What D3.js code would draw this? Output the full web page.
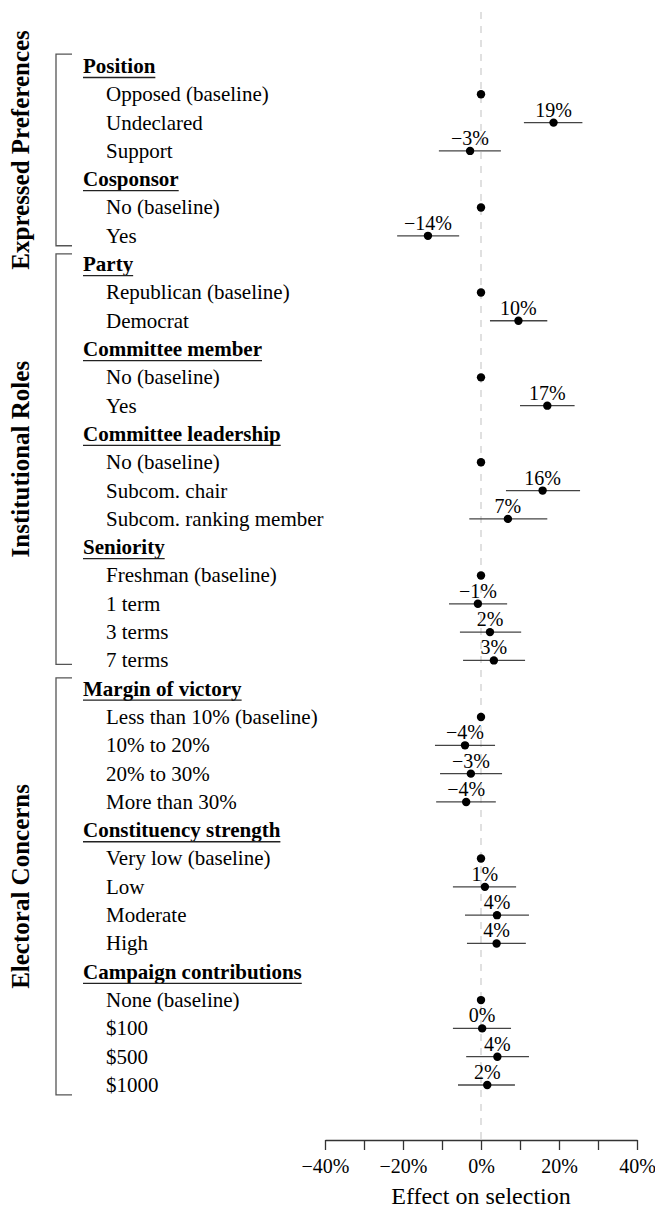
<!DOCTYPE html>
<html>
<head>
<meta charset="utf-8">
<script src="https://cdn.jsdelivr.net/npm/d3@7"></script>
<style>
  body { margin: 0; background: #fff; }
  svg { display: block; font-family: "Liberation Serif", "DejaVu Serif", serif; }
</style>
</head>
<body>
<svg id="chart"></svg>
<script>
// row labels, top to bottom
const rowLabels = [
  'Position', 'Opposed (baseline)', 'Undeclared', 'Support',
  'Cosponsor', 'No (baseline)', 'Yes',
  'Party', 'Republican (baseline)', 'Democrat',
  'Committee member', 'No (baseline)', 'Yes',
  'Committee leadership', 'No (baseline)', 'Subcom. chair', 'Subcom. ranking member',
  'Seniority', 'Freshman (baseline)', '1 term', '3 terms', '7 terms',
  'Margin of victory', 'Less than 10% (baseline)', '10% to 20%', '20% to 30%', 'More than 30%',
  'Constituency strength', 'Very low (baseline)', 'Low', 'Moderate', 'High',
  'Campaign contributions', 'None (baseline)', '$100', '$500', '$1000'
];
// 'h' = header, 'b' = baseline, 'e' = estimate
const rowKinds = [
  'h', 'b', 'e', 'e',
  'h', 'b', 'e',
  'h', 'b', 'e',
  'h', 'b', 'e',
  'h', 'b', 'e', 'e',
  'h', 'b', 'e', 'e', 'e',
  'h', 'b', 'e', 'e', 'e',
  'h', 'b', 'e', 'e', 'e',
  'h', 'b', 'e', 'e', 'e'
];
const estimates = [
  null, 0, 18.6, -2.8,
  null, 0, -13.6,
  null, 0, 9.6,
  null, 0, 17.0,
  null, 0, 15.8, 6.9,
  null, 0, -0.8, 2.3, 3.3,
  null, 0, -4.1, -2.6, -3.8,
  null, 0, 1.0, 4.1, 4.0,
  null, 0, 0.3, 4.2, 1.6
];
const ciLow = [
  null, null, 11.0, -10.8,
  null, null, -21.5,
  null, null, 2.3,
  null, null, 10.0,
  null, null, 6.4, -3.0,
  null, null, -8.2, -5.4, -4.6,
  null, null, -11.8, -10.5, -11.5,
  null, null, -7.2, -4.1, -3.6,
  null, null, -7.2, -3.8, -5.9
];
const ciHigh = [
  null, null, 26.0, 5.1,
  null, null, -5.6,
  null, null, 17.0,
  null, null, 24.0,
  null, null, 25.4, 17.0,
  null, null, 6.7, 10.3, 11.3,
  null, null, 3.6, 5.4, 3.8,
  null, null, 9.0, 12.3, 11.5,
  null, null, 7.7, 12.3, 8.7
];
const groupNames = ['Expressed Preferences', 'Institutional Roles', 'Electoral Concerns'];
const groupFirstRow = [0, 7, 22];
const groupLastRow = [6, 21, 36];
const xTicks = [-40, -30, -20, -10, 0, 10, 20, 30, 40];

const width = 655, height = 1210;
const svg = d3.select('#chart').attr('width', width).attr('height', height);

const x = d3.scaleLinear().domain([-40, 40]).range([325, 637]);
const y = d3.scalePoint().domain(d3.range(rowLabels.length)).range([66, 1085]);
const step = y.step();

const pct = v => {
  const r = Math.round(v);
  return (r < 0 ? '\u2212' : '') + Math.abs(r) + '%';
};

// zero reference line
svg.append('line')
  .attr('x1', x(0)).attr('x2', x(0))
  .attr('y1', 12).attr('y2', 1140)
  .attr('stroke', '#e0e0e0')
  .attr('stroke-width', 2)
  .attr('stroke-dasharray', '7,7');

// group brackets + labels
const bracketPad = [[0.42, 0.35], [0.36, 0.14], [0.38, 0.35]];
groupNames.forEach((name, i) => {
  const top = y(groupFirstRow[i]) - bracketPad[i][0] * step;
  const bot = y(groupLastRow[i]) + bracketPad[i][1] * step;
  svg.append('path')
    .attr('d', `M72,${top}H56V${bot}H72`)
    .attr('fill', 'none')
    .attr('stroke', '#555')
    .attr('stroke-width', 1.3);
  svg.append('text')
    .attr('transform', `translate(29,${(top + bot) / 2}) rotate(-90)`)
    .attr('text-anchor', 'middle')
    .attr('font-size', 25)
    .attr('font-weight', 'bold')
    .text(name);
});

const rows = rowLabels.map((label, i) => ({
  label, kind: rowKinds[i], est: estimates[i], lo: ciLow[i], hi: ciHigh[i], i
}));

// row labels
const labels = svg.append('g').selectAll('text')
  .data(rows)
  .join('text')
  .attr('x', d => d.kind === 'h' ? 83 : 106)
  .attr('y', d => y(d.i))
  .attr('dy', '0.33em')
  .attr('font-size', 21)
  .attr('font-weight', d => d.kind === 'h' ? 'bold' : 'normal')
  .text(d => d.label);

// underline headers
labels.filter(d => d.kind === 'h').each(function(d) {
  const w = this.getComputedTextLength();
  svg.append('line')
    .attr('x1', 83).attr('x2', 83 + w)
    .attr('y1', y(d.i) + 11.5).attr('y2', y(d.i) + 11.5)
    .attr('stroke', '#222')
    .attr('stroke-width', 1.3);
});

const pts = rows.filter(d => d.kind !== 'h');
const ests = rows.filter(d => d.kind === 'e');

// confidence intervals
svg.append('g').selectAll('line')
  .data(ests)
  .join('line')
  .attr('x1', d => x(d.lo))
  .attr('x2', d => x(d.hi))
  .attr('y1', d => y(d.i)).attr('y2', d => y(d.i))
  .attr('stroke', '#444')
  .attr('stroke-width', 1.3);

// points
svg.append('g').selectAll('circle')
  .data(pts)
  .join('circle')
  .attr('cx', d => x(d.est))
  .attr('cy', d => y(d.i))
  .attr('r', 4.2)
  .attr('fill', '#000');

// value labels
svg.append('g').selectAll('text')
  .data(ests)
  .join('text')
  .attr('x', d => x(d.est))
  .attr('y', d => y(d.i) - 6)
  .attr('text-anchor', 'middle')
  .attr('font-size', 20)
  .text(d => pct(d.est));

// x axis
const axis = svg.append('g')
  .attr('transform', 'translate(0,1140)')
  .call(d3.axisBottom(x)
    .tickValues(xTicks)
    .tickSize(10)
    .tickSizeOuter(0)
    .tickPadding(9)
    .tickFormat(v => v % 20 === 0 ? pct(v) : ''));
axis.select('.domain').attr('stroke', '#333').attr('stroke-width', 1.3);
axis.selectAll('.tick line').attr('stroke', '#333').attr('stroke-width', 1.3);
axis.selectAll('.tick text')
  .attr('font-family', '"Liberation Serif", serif')
  .attr('font-size', 20)
  .attr('fill', '#000');

svg.append('text')
  .attr('x', x(0))
  .attr('y', 1204)
  .attr('text-anchor', 'middle')
  .attr('font-size', 24)
  .text('Effect on selection');
</script>
</body>
</html>
